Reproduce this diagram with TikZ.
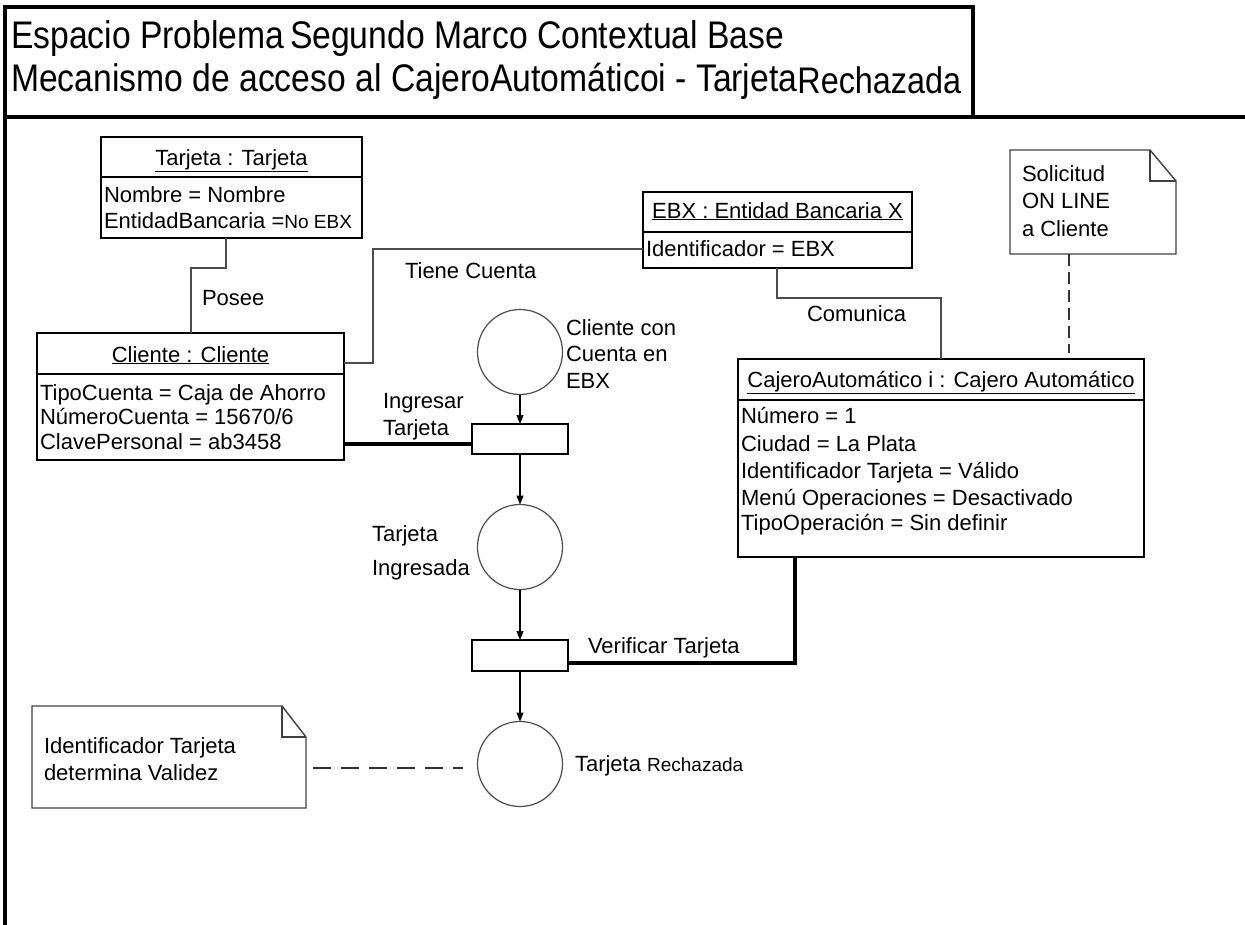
\documentclass[tikz,border=0pt]{standalone}
\usepackage{fontspec}
\setmainfont{Liberation Sans}
\newfontfamily\titlefont[FakeStretch=0.875]{Liberation Sans}
\usetikzlibrary{arrows.meta}

\begin{document}
\begin{tikzpicture}[x=1pt,y=-1pt,
  every node/.style={inner sep=0pt, outer sep=0pt},
  txt/.style={anchor=base west, font=\fontsize{22}{26}\selectfont},
  hdr/.style={anchor=base, font=\fontsize{22}{26}\selectfont},
  ttl/.style={anchor=base west, font=\titlefont\fontsize{38.5}{44}\selectfont},
  objbox/.style={draw, line width=2pt, anchor=north west, rectangle},
  divider/.style={line width=2pt},
  assoc/.style={draw=black!70, line width=1.4pt},
  place/.style={circle, draw=black!70, line width=1.2pt, minimum size=85pt},
  trans/.style={rectangle, draw, line width=1.5pt, anchor=north west},
  arc/.style={line width=1.2pt, -{Triangle[length=9pt,width=7pt]}},
  strong/.style={line width=3.5pt},
  notearea/.style={anchor=north west, rectangle},
  notebody/.style={draw=black!75, line width=1.4pt, line join=miter},
  dashline/.style={draw=black!80, line width=1.4pt, dash pattern=on 12pt off 6pt},
  dashlong/.style={draw=black!80, line width=1.4pt, dash pattern=on 18pt off 10pt},
  frame/.style={line width=3.5pt},
]
\useasboundingbox (0,0) rectangle (1245,924);

% ---- title block and outer frame ----
\node[draw, frame, notearea, minimum width=968pt, minimum height=110pt] (titulo) at (5,7) {};
\coordinate (bordeDer) at (1250,117);
\coordinate (bordeInf) at (5,930);
\draw[frame] (titulo.south west) -- (bordeDer);
\draw[frame] (titulo.north west) -- (bordeInf);
\node[ttl] (tituloA) at (11,48) {Espacio Problema};
\node[ttl] (tituloB) at (290,48) {Segundo Marco Contextual Base};
\node[ttl] (tituloC) at (11,91) {Mecanismo de acceso al CajeroAutomáticoi - Tarjeta\raisebox{-2pt}{\fontsize{37}{42}\selectfont Rechazada}};

% ---- object: Tarjeta ----
\node[objbox, minimum width=261pt, minimum height=101pt] (tarjeta) at (101,137) {};
\draw[divider] (tarjeta.west |- 0,177) -- (tarjeta.east |- 0,177);
\node[hdr] (tarjetaH) at (231.5,165) {\underline{Tarjeta : Tarjeta}};
\node[txt] (tarjetaA) at (104,202) {Nombre = Nombre};
\node[txt] (tarjetaB) at (104,228) {EntidadBancaria ={\fontsize{19}{22}\selectfont No EBX}};

% ---- object: Cliente ----
\node[objbox, minimum width=307pt, minimum height=127pt] (cliente) at (37,333) {};
\draw[divider] (cliente.west |- 0,374) -- (cliente.east |- 0,374);
\node[hdr] (clienteH) at (190.5,362) {\underline{Cliente : Cliente}};
\node[txt] (clienteA) at (40,400) {TipoCuenta = Caja de Ahorro};
\node[txt] (clienteB) at (40,424) {NúmeroCuenta = 15670/6};
\node[txt] (clienteC) at (40,449) {ClavePersonal = ab3458};

% ---- object: EBX ----
\node[objbox, minimum width=269pt, minimum height=76pt] (ebx) at (643,192) {};
\draw[divider] (ebx.west |- 0,232) -- (ebx.east |- 0,232);
\node[hdr] (ebxH) at (777.5,218) {\underline{EBX : Entidad Bancaria X}};
\node[txt] (ebxA) at (646,256) {Identificador = EBX};

% ---- object: Cajero ----
\node[objbox, minimum width=406pt, minimum height=198pt] (cajero) at (738,359) {};
\draw[divider] (cajero.west |- 0,400) -- (cajero.east |- 0,400);
\node[hdr] (cajeroH) at (941,387) {\underline{CajeroAutomático i : Cajero Automático}};
\node[txt] (cajeroA) at (741,423) {Número = 1};
\node[txt] (cajeroB) at (741,451) {Ciudad = La Plata};
\node[txt] (cajeroC) at (741,478) {Identificador Tarjeta = Válido};
\node[txt] (cajeroD) at (741,505) {Menú Operaciones = Desactivado};
\node[txt] (cajeroE) at (741,530) {TipoOperación = Sin definir};

% ---- associations ----
\draw[assoc] (tarjeta.south -| 226,0) |- (191,268) -- (cliente.north -| 191,0);
\node[txt] (posee) at (202,305) {Posee};
\draw[assoc] (cliente.east |- 0,363) -| (373,249) -- (ebx.west |- 0,249);
\node[txt] (tiene) at (405,278) {Tiene Cuenta};
\draw[assoc] (ebx.south -| 777,0) |- (941,298) -- (cajero.north -| 941,0);
\node[txt] (comunica) at (807,321) {Comunica};

% ---- net: places and transitions ----
\node[place] (p1) at (520,352) {};
\node[txt] (p1a) at (566,335) {Cliente con};
\node[txt] (p1b) at (566,361) {Cuenta en};
\node[txt] (p1c) at (566,388) {EBX};

\node[trans, minimum width=96pt, minimum height=30pt] (tr1) at (472,424) {};
\node[txt] (tr1a) at (383,408) {Ingresar};
\node[txt] (tr1b) at (383,435) {Tarjeta};

\node[place] (p2) at (520,547) {};
\node[txt] (p2a) at (372,541) {Tarjeta};
\node[txt] (p2b) at (372,575) {Ingresada};

\node[trans, minimum width=96pt, minimum height=31pt] (tr2) at (472,640) {};
\node[txt] (tr2a) at (588,653) {Verificar Tarjeta};

\node[place] (p3) at (520,764) {};
\node[txt] (p3a) at (575,771) {Tarjeta {\fontsize{19}{22}\selectfont Rechazada}};

\draw[arc] (p1) -- (tr1);
\draw[arc] (tr1) -- (p2);
\draw[arc] (p2) -- (tr2);
\draw[arc] (tr2) -- (p3);

% ---- object links into transitions ----
\draw[strong] (cliente.east |- 0,444) -- (tr1.west |- 0,444);
\draw[strong] (tr2.east |- 0,663) -| (cajero.south -| 795,0);

% ---- notes ----
\node[notearea, minimum width=166pt, minimum height=104pt] (nota1) at (1010,150) {};
\draw[notebody] (nota1.north west) -- ([xshift=-26pt]nota1.north east)
  -- ([yshift=-31pt]nota1.north east) -- (nota1.south east) -- (nota1.south west) -- cycle;
\draw[notebody] ([xshift=-26pt]nota1.north east) |- ([yshift=-31pt]nota1.north east);
\node[txt] (nota1a) at (1022,181) {Solicitud};
\node[txt] (nota1b) at (1022,208) {ON LINE};
\node[txt] (nota1c) at (1022,236) {a Cliente};
\draw[dashline, shorten >=6pt] (nota1.south -| 1069,0) -- (cajero.north -| 1069,0);

\node[notearea, minimum width=274pt, minimum height=102pt] (nota2) at (32,706) {};
\draw[notebody] (nota2.north west) -- ([xshift=-24pt]nota2.north east)
  -- ([yshift=-31pt]nota2.north east) -- (nota2.south east) -- (nota2.south west) -- cycle;
\draw[notebody] ([xshift=-24pt]nota2.north east) |- ([yshift=-31pt]nota2.north east);
\node[txt] (nota2a) at (44,753) {Identificador Tarjeta};
\node[txt] (nota2b) at (44,780) {determina Validez};
\draw[dashlong, shorten <=7pt, shorten >=15pt] (nota2.east |- 0,768) -- (p3.west |- 0,768);
\end{tikzpicture}
\end{document}
